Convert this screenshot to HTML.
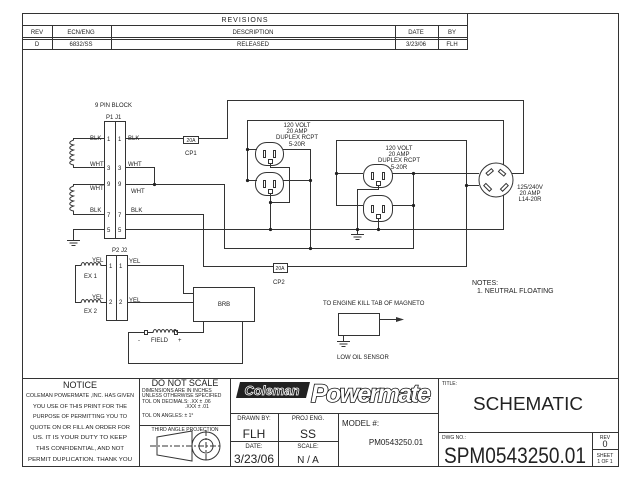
<!DOCTYPE html>
<html><head><meta charset="utf-8"><style>
html,body{margin:0;padding:0;background:#fff;}
svg{display:block;}
text{font-family:"Liberation Sans",sans-serif;fill:#222;}
.s{font-size:6px;}
.m{font-size:7px;}
</style></head><body>
<svg width="640" height="480" viewBox="0 0 640 480" xmlns="http://www.w3.org/2000/svg">
<g fill="none" stroke="#333" stroke-width="1">
<rect x="22.5" y="13.5" width="596" height="453"/>
<line x1="22" y1="25.5" x2="467" y2="25.5"/>
<line x1="22" y1="37.5" x2="467" y2="37.5"/>
<line x1="22" y1="39.5" x2="467" y2="39.5"/>
<line x1="22" y1="49.5" x2="467" y2="49.5"/>
<line x1="467.5" y1="13" x2="467.5" y2="50"/>
<line x1="52.5" y1="25" x2="52.5" y2="50"/>
<line x1="111.5" y1="25" x2="111.5" y2="50"/>
<line x1="395.5" y1="25" x2="395.5" y2="50"/>
<line x1="438.5" y1="25" x2="438.5" y2="50"/>
<line x1="22" y1="378.5" x2="619" y2="378.5"/>
<line x1="139.5" y1="378" x2="139.5" y2="466"/>
<line x1="230.5" y1="378" x2="230.5" y2="466"/>
<line x1="438.5" y1="378" x2="438.5" y2="466"/>
<line x1="139" y1="425.5" x2="230" y2="425.5"/>
<line x1="230" y1="413.5" x2="438" y2="413.5"/>
<line x1="278.5" y1="413" x2="278.5" y2="466"/>
<line x1="338.5" y1="413" x2="338.5" y2="466"/>
<line x1="230" y1="441.5" x2="338" y2="441.5"/>
<line x1="438" y1="432.5" x2="619" y2="432.5"/>
<line x1="592.5" y1="432" x2="592.5" y2="466"/>
<line x1="592" y1="449.5" x2="619" y2="449.5"/>
<path d="M157 437 L192 431 L192 461 L157 455 Z"/>
<line x1="150" y1="446" x2="222" y2="446" stroke-dasharray="6,2,2,2"/>
<circle cx="206" cy="446" r="14"/>
<circle cx="206" cy="446" r="7"/>
<line x1="206" y1="430" x2="206" y2="462" stroke-dasharray="6,2,2,2"/>

<rect x="104.5" y="121.5" width="21" height="117"/>
<line x1="115.5" y1="121" x2="115.5" y2="238"/>
<path d="M104 138.5 H73.5 V140 c-5 2 -5 4 0 5 c-5 2 -5 4 0 5 c-5 2 -5 4 0 5 c-5 2 -5 4 0 5 c-5 2 -5 4 0 5 V167.5 H104"/>
<path d="M104 184.5 H73.5 V186 c-5 2 -5 4 0 5 c-5 2 -5 4 0 5 c-5 2 -5 4 0 5 c-5 2 -5 4 0 5 c-5 2 -5 4 0 5 V214.5 H104"/>
<path d="M104 229.5 H73.5 V240"/>
<line x1="67" y1="240.5" x2="80" y2="240.5"/>
<line x1="69.5" y1="243" x2="77.5" y2="243"/>
<line x1="71.5" y1="245.5" x2="75.5" y2="245.5"/>
<path d="M125 138.5 H183"/>
<rect x="183.5" y="136.5" width="15" height="7"/>
<path d="M198 138.5 H227.5 V100.5 H523.5 V173.5 H512"/>
<path d="M125 167.5 H154.5 V184"/>
<path d="M125 184.5 H224.5 V248.5 H413.5 V173"/>
<path d="M125 229.5 H503.5 V120.5 H247.5 V180.5 H257"/>
<line x1="247" y1="149.5" x2="257" y2="149.5"/>
<path d="M283 149.5 H310.5 V248"/>
<line x1="283" y1="180.5" x2="310" y2="180.5"/>
<rect x="255.5" y="142.5" width="28" height="23" rx="11" ry="11"/>
<rect x="255.5" y="172.5" width="28" height="23" rx="11" ry="11"/>
<rect x="263.5" y="150.5" width="2" height="7"/><rect x="273.5" y="150.5" width="2" height="7"/>
<rect x="263.5" y="180.5" width="2" height="7"/><rect x="273.5" y="180.5" width="2" height="7"/>
<rect x="268.5" y="159.5" width="4" height="4"/>
<rect x="268.5" y="189.5" width="4" height="4"/>
<path d="M270.5 164 V167.5 H289.5 V202.5 H270.5"/>
<path d="M270.5 194 V229"/>
<path d="M125 214.5 H203.5 V266.5 H273"/>
<rect x="273.5" y="263.5" width="14" height="9"/>
<path d="M287 266.5 H466.5 V140.5 H336.5 V205.5 H363"/>
<path d="M336 173.5 H363"/>
<path d="M392 173.5 H479"/>
<line x1="392" y1="205.5" x2="413" y2="205.5"/>
<line x1="466" y1="185.5" x2="479" y2="185.5"/>
<rect x="363.5" y="164.5" width="29" height="23" rx="11" ry="11"/>
<rect x="363.5" y="195.5" width="29" height="26" rx="11" ry="11"/>
<rect x="371.5" y="172.5" width="2" height="7"/><rect x="382.5" y="172.5" width="2" height="7"/>
<rect x="371.5" y="205.5" width="2" height="7"/><rect x="382.5" y="205.5" width="2" height="7"/>
<rect x="376.5" y="181.5" width="4" height="4"/>
<rect x="376.5" y="214.5" width="4" height="4"/>
<path d="M378.5 186 V189.5 H357.5 V234"/>
<path d="M378.5 219 V229"/>
<line x1="351" y1="234.5" x2="364" y2="234.5"/>
<line x1="353.5" y1="237" x2="361.5" y2="237"/>
<line x1="355.5" y1="239.5" x2="359.5" y2="239.5"/>
<circle cx="496" cy="180" r="17" fill="#fff"/>
<rect x="486" y="171" width="7" height="3" transform="rotate(-40 489 172)"/>
<rect x="499" y="171" width="7" height="3" transform="rotate(40 502 172)"/>
<rect x="484" y="186" width="8" height="3" transform="rotate(45 488 187)"/>
<rect x="500" y="186" width="8" height="3" transform="rotate(-45 504 187)"/>
<rect x="106.5" y="255.5" width="21" height="65"/>
<line x1="116.5" y1="255" x2="116.5" y2="320"/>
<path d="M106 265.5 H101 c-1 -4 -3 -4 -4 0 c-1 -4 -3 -4 -4 0 c-1 -4 -3 -4 -4 0 c-1 -4 -3 -4 -4 0 c-1 -4 -3 -4 -4 0 H75.5 V302.5 H81 c1 -4 3 -4 4 0 c1 -4 3 -4 4 0 c1 -4 3 -4 4 0 c1 -4 3 -4 4 0 c1 -4 3 -4 4 0 H106"/>
<path d="M127 265.5 H183.5 V293.5 H193"/>
<line x1="127" y1="302.5" x2="193" y2="302.5"/>
<rect x="193.5" y="287.5" width="61" height="34"/>
<path d="M203.5 321 V332.5 H177"/>
<path d="M177 332.5 c-1 -4 -3 -4 -4 0 c-1 -4 -3 -4 -4 0 c-1 -4 -3 -4 -4 0 c-1 -4 -3 -4 -4 0 c-1 -4 -3 -4 -4 0 c-1 -4 -3 -4 -4 0 H147"/>
<rect x="174.5" y="330.5" width="3" height="4"/>
<rect x="144.5" y="330.5" width="3" height="4"/>
<path d="M144 332.5 H128.5 V363.5 H242.5 V321"/>
<rect x="338.5" y="313.5" width="41" height="22"/>
<path d="M379 319.5 H400"/>
<path d="M343.5 335 V341"/>
<line x1="337" y1="341.5" x2="350" y2="341.5"/>
<line x1="339.5" y1="344" x2="347.5" y2="344"/>
<line x1="341.5" y1="346.5" x2="345.5" y2="346.5"/>
</g>
<polygon points="404,319.5 396,317 396,322" fill="#333"/>
<g fill="#222">
<circle cx="154.5" cy="184.5" r="1.6"/>
<circle cx="247.5" cy="149.5" r="1.6"/><circle cx="247.5" cy="180.5" r="1.6"/>
<circle cx="310.5" cy="180.5" r="1.6"/><circle cx="310.5" cy="248.5" r="1.6"/>
<circle cx="270.5" cy="202.5" r="1.6"/><circle cx="270.5" cy="229.5" r="1.6"/>
<circle cx="336.5" cy="173.5" r="1.6"/><circle cx="413.5" cy="173.5" r="1.6"/><circle cx="413.5" cy="205.5" r="1.6"/>
<circle cx="357.5" cy="229.5" r="1.6"/><circle cx="378.5" cy="229.5" r="1.6"/>
<circle cx="466.5" cy="185.5" r="1.6"/>
</g>

<text x="245" y="22" class="m" text-anchor="middle" letter-spacing="1">REVISIONS</text>
<text x="37" y="34" class="s" text-anchor="middle">REV</text>
<text x="81" y="34" class="s" text-anchor="middle">ECN/ENG</text>
<text x="253" y="34" class="s" text-anchor="middle">DESCRIPTION</text>
<text x="416" y="34" class="s" text-anchor="middle">DATE</text>
<text x="452" y="34" class="s" text-anchor="middle">BY</text>
<text x="37" y="46" class="s" text-anchor="middle">D</text>
<text x="81" y="46" class="s" text-anchor="middle">6832/SS</text>
<text x="253" y="46" class="s" text-anchor="middle">RELEASED</text>
<text x="416" y="46" class="s" text-anchor="middle">3/23/06</text>
<text x="452" y="46" class="s" text-anchor="middle">FLH</text>

<text x="95" y="107" class="s">9 PIN BLOCK</text>
<text x="106" y="119" class="s">P1 J1</text>
<text x="107" y="141" class="s">1</text><text x="118" y="141" class="s">1</text>
<text x="107" y="170" class="s">3</text><text x="118" y="170" class="s">3</text>
<text x="107" y="186" class="s">9</text><text x="118" y="186" class="s">9</text>
<text x="107" y="217" class="s">7</text><text x="118" y="217" class="s">7</text>
<text x="107" y="232" class="s">5</text><text x="118" y="232" class="s">5</text>
<text x="90" y="140" class="s">BLK</text><text x="90" y="166" class="s">WHT</text>
<text x="90" y="190" class="s">WHT</text><text x="90" y="212" class="s">BLK</text>
<text x="128" y="140" class="s">BLK</text><text x="128" y="166" class="s">WHT</text>
<text x="131" y="193" class="s">WHT</text><text x="131" y="212" class="s">BLK</text>
<text x="191" y="142" font-size="5" text-anchor="middle">20A</text>
<text x="185" y="155" class="s">CP1</text>
<text x="297" y="127" class="s" text-anchor="middle">120 VOLT</text>
<text x="297" y="133" class="s" text-anchor="middle">20 AMP</text>
<text x="297" y="139" class="s" text-anchor="middle">DUPLEX RCPT</text>
<text x="297" y="146" class="s" text-anchor="middle">5-20R</text>
<text x="399" y="150" class="s" text-anchor="middle">120 VOLT</text>
<text x="399" y="156" class="s" text-anchor="middle">20 AMP</text>
<text x="399" y="162" class="s" text-anchor="middle">DUPLEX RCPT</text>
<text x="399" y="169" class="s" text-anchor="middle">5-20R</text>
<text x="530" y="189" class="s" text-anchor="middle">125/240V</text>
<text x="530" y="195" class="s" text-anchor="middle">20 AMP</text>
<text x="530" y="201" class="s" text-anchor="middle">L14-20R</text>
<text x="112" y="252" class="s">P2 J2</text>
<text x="109" y="268" class="s">1</text><text x="119" y="268" class="s">1</text>
<text x="109" y="304" class="s">2</text><text x="119" y="304" class="s">2</text>
<text x="92" y="262" class="s">YEL</text><text x="84" y="278" class="s">EX 1</text>
<text x="92" y="299" class="s">YEL</text><text x="84" y="313" class="s">EX 2</text>
<text x="129" y="263" class="s">YEL</text><text x="129" y="302" class="s">YEL</text>
<text x="224" y="306" class="s" text-anchor="middle">BRB</text>
<text x="138" y="342" class="s">-</text><text x="151" y="342" class="s">FIELD</text><text x="178" y="342" class="s">+</text>
<text x="280" y="270" font-size="5" text-anchor="middle">20A</text>
<text x="273" y="284" class="s">CP2</text>
<text x="323" y="305" class="s">TO ENGINE KILL TAB OF MAGNETO</text>
<text x="337" y="359" class="s">LOW OIL SENSOR</text>
<text x="472" y="285" class="m">NOTES:</text>
<text x="477" y="293" class="m">1. NEUTRAL FLOATING</text>

<text x="80" y="388" font-size="9" text-anchor="middle">NOTICE</text>
<g font-size="5.5">
<text x="26" y="397" textLength="108" lengthAdjust="spacingAndGlyphs">COLEMAN POWERMATE ,INC. HAS GIVEN</text>
<text x="33" y="408" textLength="94" lengthAdjust="spacingAndGlyphs">YOU USE OF THIS PRINT FOR THE</text>
<text x="33" y="418" textLength="94" lengthAdjust="spacingAndGlyphs">PURPOSE OF PERMITTING YOU TO</text>
<text x="30" y="429" textLength="100" lengthAdjust="spacingAndGlyphs">QUOTE ON OR FILL AN ORDER FOR</text>
<text x="33" y="439" textLength="94" lengthAdjust="spacingAndGlyphs">US. IT IS YOUR DUTY TO KEEP</text>
<text x="36" y="450" textLength="88" lengthAdjust="spacingAndGlyphs">THIS CONFIDENTIAL, AND NOT</text>
<text x="28" y="461" textLength="104" lengthAdjust="spacingAndGlyphs">PERMIT DUPLICATION. THANK YOU</text>
</g>
<text x="185" y="386" font-size="9" text-anchor="middle">DO NOT SCALE</text>
<g font-size="5">
<text x="142" y="392">DIMENSIONS ARE IN INCHES</text>
<text x="142" y="397">UNLESS OTHERWISE SPECIFIED</text>
<text x="142" y="403">TOL ON DECIMALS: .XX ± .06</text>
<text x="185" y="408">.XXX ± .01</text>
<text x="142" y="417">TOL ON ANGLES:   ± 1°</text>
<text x="185" y="431" text-anchor="middle">THIRD ANGLE PROJECTION</text>
</g>
<polygon points="240,382 310,382 306,398 236,398" fill="#222"/>
<text x="272" y="395" font-size="13" font-style="italic" font-weight="bold" text-anchor="middle" style="fill:#222;stroke:#fff;stroke-width:0.7">Coleman</text>
<text x="371" y="402" font-size="25" font-style="italic" font-weight="bold" text-anchor="middle" textLength="120" style="fill:#fff;stroke:#111;stroke-width:1.6;paint-order:stroke">Powermate</text>
<g text-anchor="middle">
<text x="254" y="420" font-size="6">DRAWN BY:</text>
<text x="254" y="438" font-size="12">FLH</text>
<text x="254" y="448" font-size="6">DATE:</text>
<text x="254" y="463" font-size="12">3/23/06</text>
<text x="308" y="420" font-size="6">PROJ ENG.</text>
<text x="308" y="438" font-size="12">SS</text>
<text x="308" y="448" font-size="6">SCALE:</text>
<text x="308" y="463" font-size="10">N  /  A</text>
<text x="396" y="445" font-size="8">PM0543250.01</text>
<text x="605" y="439" font-size="5">REV</text>
<text x="605" y="447" font-size="9">0</text>
<text x="605" y="457" font-size="5">SHEET</text>
<text x="605" y="463" font-size="5">1 OF 1</text>
</g>
<text x="473" y="410" font-size="18" textLength="110" lengthAdjust="spacingAndGlyphs">SCHEMATIC</text>
<text x="444" y="463" font-size="22" textLength="142" lengthAdjust="spacingAndGlyphs">SPM0543250.01</text>
<text x="342" y="426" font-size="8">MODEL #:</text>
<text x="442" y="385" font-size="5">TITLE:</text>
<text x="442" y="439" font-size="5">DWG NO.:</text>
</svg>
</body></html>
